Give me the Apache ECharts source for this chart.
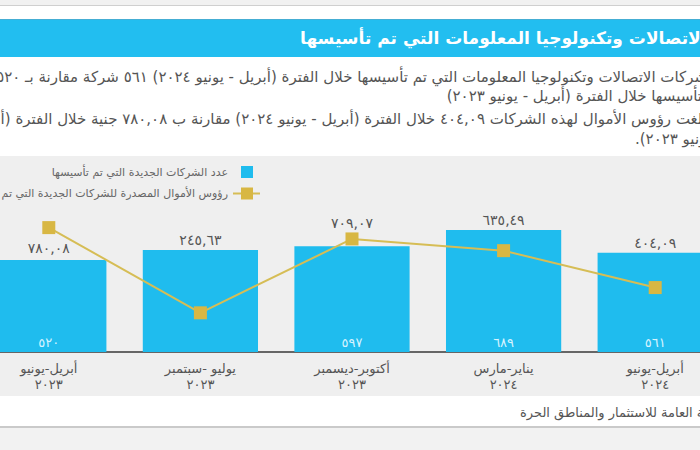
<!DOCTYPE html>
<html>
<head>
<meta charset="utf-8">
<script src="https://cdn.jsdelivr.net/npm/echarts@6/dist/echarts.min.js"></script>
<style>
  html, body { margin: 0; background: #fff; overflow: hidden; width: 700px; height: 450px; }
  /* the reference is a crop of a wider page: the plot runs past both edges */
  #chart { position: absolute; left: -27px; top: 0; width: 758px; height: 450px; }
</style>
</head>
<body>
<div id="chart"></div>
<script>
// chart data
const periodNames = ['أبريل-يونيو', 'يوليو -سبتمبر', 'أكتوبر-ديسمبر', 'يناير-مارس', 'أبريل-يونيو'];
const periodYears = ['٢٠٢٣', '٢٠٢٣', '٢٠٢٣', '٢٠٢٤', '٢٠٢٤'];
const companyCounts = [520, 576, 597, 689, 561];          // bars
const capitalValues = [780.08, 245.63, 709.07, 635.49, 404.09]; // line

const RLM = '\u200F';
const FONT = '"DejaVu Sans", sans-serif';
const OX = 27; // container is shifted left by this much

// western digits -> arabic-indic digits
const toArabic = (s) => String(s).replace(/[0-9]/g, d => '٠١٢٣٤٥٦٧٨٩'[d]).replace('.', ',');

const categories = periodNames.map((n, i) => n + '\n' + periodYears[i]);

const chart = echarts.init(document.getElementById('chart'), null, { renderer: 'svg' });

const bodyText = (x, y, text, align) => ({
  type: 'text', x: x + OX, y: y,
  style: { text: text, fill: '#555', font: '15px ' + FONT, align: align, verticalAlign: 'middle' },
});

const option = {
  animation: false,
  textStyle: { fontFamily: FONT },
  grid: { left: 0, right: 0, top: 175, bottom: 98, containLabel: false },
  xAxis: {
    type: 'category',
    data: categories,
    axisLine: { lineStyle: { color: '#666', width: 2 } },
    axisTick: { show: false },
    axisLabel: { color: '#555', fontSize: 13, lineHeight: 16, margin: 8, interval: 0 },
  },
  yAxis: [
    { type: 'value', min: 0, max: 1000, show: false },
    { type: 'value', min: 0, max: 1110, show: false },
  ],
  series: [
    {
      // company counts, labelled above with the capital value
      type: 'bar',
      data: companyCounts.map((v, i) => i === 2 ? { value: v, label: { distance: 16 } } : (i === 0 ? { value: v, label: { distance: 5 } } : v)),
      barCategoryGap: '24%',
      itemStyle: { color: '#1fbcee' },
      label: {
        show: true,
        position: 'top',
        distance: 3,
        color: '#555',
        fontSize: 14,
        formatter: (p) => toArabic(capitalValues[p.dataIndex].toFixed(2)),
      },
      z: 2,
    },
    {
      // same bars again, only to carry the count labels
      type: 'bar',
      data: companyCounts.map((v, i) => i === 1 ? { value: v, label: { show: false } } : v),
      barCategoryGap: '24%',
      barGap: '-100%',
      itemStyle: { color: 'transparent' },
      label: {
        show: true,
        position: 'insideBottom',
        distance: 3,
        color: '#d6f3ff',
        fontSize: 13,
        formatter: (p) => toArabic(p.value),
      },
      z: 3,
    },
    {
      type: 'line',
      yAxisIndex: 1,
      data: capitalValues,
      symbol: 'rect',
      symbolSize: 13,
      lineStyle: { color: '#d6bd55', width: 2 },
      itemStyle: { color: '#d8b743' },
      z: 4,
    },
  ],
  graphic: [
    // page background pieces
    { type: 'rect', z: -10, shape: { x: 0, y: 0, width: 758, height: 5 }, style: { fill: '#f1f1f1' } },
    { type: 'rect', z: -10, shape: { x: 0, y: 5, width: 758, height: 1 }, style: { fill: '#cfcfcf' } },
    { type: 'rect', z: -10, shape: { x: 0, y: 19, width: 758, height: 38 }, style: { fill: '#22bef0' } },
    { type: 'rect', z: -10, shape: { x: 0, y: 19, width: 758, height: 1 }, style: { fill: '#45aed4' } },
    { type: 'rect', z: -10, shape: { x: 0, y: 156, width: 758, height: 240 }, style: { fill: '#efefef' } },
    { type: 'rect', z: -10, shape: { x: 0, y: 426, width: 758, height: 2 }, style: { fill: '#cacaca' } },
    { type: 'rect', z: -10, shape: { x: 0, y: 428, width: 758, height: 22 }, style: { fill: '#f2f2f2' } },

    // banner title
    { type: 'text', x: 300 + OX, y: 38, style: {
      text: 'عدد شركات الاتصالات وتكنولوجيا المعلومات التي تم تأسيسها',
      fill: '#fff', font: 'bold 17px ' + FONT, align: 'left', verticalAlign: 'middle' } },

    // body text
    bodyText(707, 77, 'شركات الاتصالات وتكنولوجيا المعلومات التي تم تأسيسها خلال الفترة (أبريل - يونيو ٢٠٢٤) ٥٦١ شركة مقارنة بـ ٥٢٠ شركة تم' + RLM, 'right'),
    bodyText(702, 96, 'تأسيسها خلال الفترة (أبريل - يونيو ٢٠٢٣)' + RLM, 'right'),
    bodyText(707, 119, 'بلغت رؤوس الأموال لهذه الشركات ٤٠٤,٠٩ خلال الفترة (أبريل - يونيو ٢٠٢٤) مقارنة ب ٧٨٠,٠٨ جنية خلال الفترة (أبريل -' + RLM, 'right'),
    bodyText(711, 139, 'يونيو ٢٠٢٣).' + RLM, 'right'),

    // legend
    { type: 'rect', shape: { x: 241 + OX, y: 166, width: 12, height: 12 }, style: { fill: '#1fbcee' } },
    { type: 'text', x: 228 + OX, y: 172, style: {
      text: 'عدد الشركات الجديدة التي تم تأسيسها',
      fill: '#666', font: '11px ' + FONT, align: 'right', verticalAlign: 'middle' } },
    { type: 'line', shape: { x1: 233 + OX, y1: 193.5, x2: 260 + OX, y2: 193.5 }, style: { stroke: '#d6bd55', lineWidth: 2 } },
    { type: 'rect', shape: { x: 241 + OX, y: 187.5, width: 12, height: 12 }, style: { fill: '#d8b743' } },
    { type: 'text', x: 228 + OX, y: 193, style: {
      text: 'رؤوس الأموال المصدرة للشركات الجديدة التي تم تأسيسها',
      fill: '#666', font: '11px ' + FONT, align: 'right', verticalAlign: 'middle' } },

    // source
    { type: 'text', x: 520 + OX, y: 412, style: {
      text: 'المصدر: الهيئة العامة للاستثمار والمناطق الحرة',
      fill: '#555', font: '13px ' + FONT, align: 'left', verticalAlign: 'middle' } },
  ],
};

chart.setOption(option);
</script>
</body>
</html>
